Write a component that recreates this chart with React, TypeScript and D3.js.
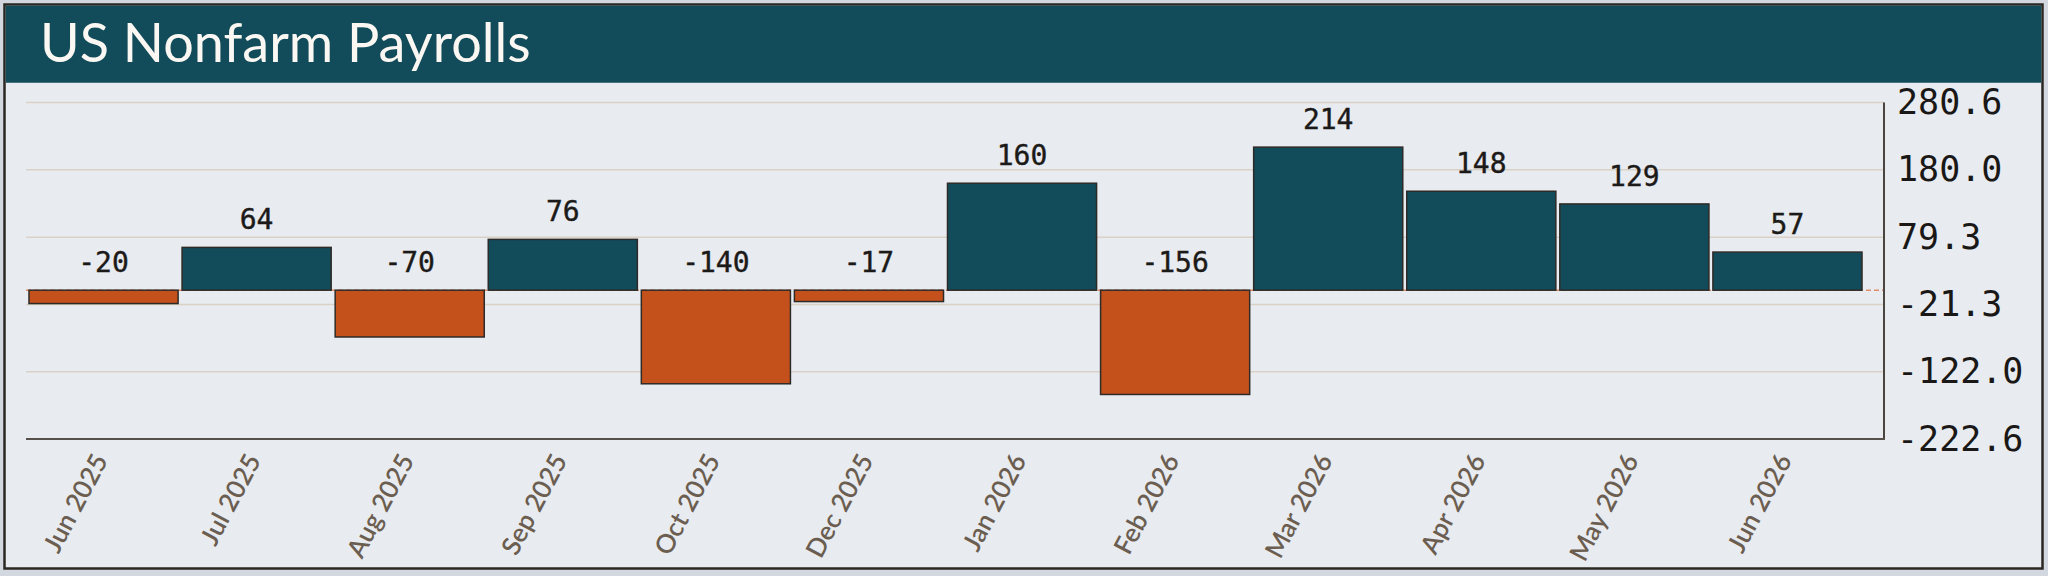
import * as d3 from "d3";
import { useEffect, useRef } from "react";

const months = [
  "Jun 2025",
  "Jul 2025",
  "Aug 2025",
  "Sep 2025",
  "Oct 2025",
  "Dec 2025",
  "Jan 2026",
  "Feb 2026",
  "Mar 2026",
  "Apr 2026",
  "May 2026",
  "Jun 2026"
];
const payrolls = [-20, 64, -70, 76, -140, -17, 160, -156, 214, 148, 129, 57];
const yTicks = [280.6, 180.0, 79.3, -21.3, -122.0, -222.6];

const TEAL = "#124b5a";
const ORANGE = "#c4511b";

export default function App() {
  const ref = useRef<SVGSVGElement | null>(null);

  useEffect(() => {
    if (!ref.current) {
      return;
    }

    const width = 2048;
    const height = 576;
    const plot = { left: 26, right: 1884, top: 102.6, bottom: 439 };

    const svg = d3.select(ref.current);
    svg.selectAll("*").remove();
    svg.attr("viewBox", `0 0 ${width} ${height}`);

    svg.append("rect").attr("width", width).attr("height", height).attr("fill", "#d3d8e0");
    svg
      .append("rect")
      .attr("x", 4.5)
      .attr("y", 4.5)
      .attr("width", 2038)
      .attr("height", 564)
      .attr("fill", "#e8ebf0")
      .attr("stroke", "#2b2723")
      .attr("stroke-width", 2.5);
    svg
      .append("rect")
      .attr("x", 5.75)
      .attr("y", 5.75)
      .attr("width", 2035.5)
      .attr("height", 77)
      .attr("fill", TEAL);
    svg
      .append("text")
      .attr("x", 40)
      .attr("y", 61.5)
      .attr("font-family", "Lato, 'Noto Sans', sans-serif")
      .attr("font-size", 54)
      .attr("fill", "#fbf8f3")
      .text("US Nonfarm Payrolls");

    const y = d3
      .scaleLinear()
      .domain([d3.min(yTicks)!, d3.max(yTicks)!])
      .range([plot.bottom, plot.top]);
    const x = d3
      .scaleBand<string>()
      .domain(months)
      .range([27, 1864])
      .paddingInner(0.026)
      .paddingOuter(0.013);

    const grid = svg.append("g");
    yTicks.forEach((tick) => {
      grid
        .append("line")
        .attr("x1", plot.left)
        .attr("x2", plot.right)
        .attr("y1", y(tick))
        .attr("y2", y(tick))
        .attr("stroke", "#d9d1c5")
        .attr("stroke-width", 1.5);
    });

    svg
      .append("line")
      .attr("x1", plot.left)
      .attr("x2", plot.right)
      .attr("y1", y(0))
      .attr("y2", y(0))
      .attr("stroke", "#e08d68")
      .attr("stroke-width", 1.5)
      .attr("stroke-dasharray", "5,3");

    svg
      .append("g")
      .selectAll("rect")
      .data(payrolls)
      .join("rect")
      .attr("x", (_, i) => x(months[i])!)
      .attr("width", x.bandwidth())
      .attr("y", (d) => y(Math.max(0, d)))
      .attr("height", (d) => Math.abs(y(d) - y(0)))
      .attr("fill", (d) => (d >= 0 ? TEAL : ORANGE))
      .attr("stroke", "#2e2a27")
      .attr("stroke-width", 1.5);

    svg
      .append("g")
      .selectAll("text")
      .data(payrolls)
      .join("text")
      .attr("x", (_, i) => x(months[i])! + x.bandwidth() / 2)
      .attr("y", (d) => y(Math.max(0, d)) - 18)
      .attr("text-anchor", "middle")
      .attr("font-family", "'DejaVu Sans Mono', monospace")
      .attr("font-size", 28)
      .attr("fill", "#1c1a18")
      .attr("stroke", "#1c1a18")
      .attr("stroke-width", 0.4)
      .text((d) => String(d));

    // axes frame
    svg
      .append("line")
      .attr("x1", plot.right)
      .attr("x2", plot.right)
      .attr("y1", plot.top)
      .attr("y2", plot.bottom)
      .attr("stroke", "#4a4540")
      .attr("stroke-width", 2);
    svg
      .append("line")
      .attr("x1", plot.left)
      .attr("x2", plot.right + 1)
      .attr("y1", plot.bottom)
      .attr("y2", plot.bottom)
      .attr("stroke", "#55504a")
      .attr("stroke-width", 2);

    svg
      .append("g")
      .selectAll("text")
      .data(yTicks)
      .join("text")
      .attr("x", 1897)
      .attr("y", (d) => y(d))
      .attr("dy", "0.33em")
      .attr("font-family", "'DejaVu Sans Mono', monospace")
      .attr("font-size", 35)
      .attr("fill", "#1a1816")
      .text((d) => d.toFixed(1));

    svg
      .append("g")
      .selectAll("text")
      .data(months)
      .join("text")
      .attr("transform", (d) => `translate(${x(d)! + x.bandwidth() / 2 - 3}, 456) rotate(-62)`)
      .attr("text-anchor", "end")
      .attr("dy", "0.35em")
      .attr("font-family", "Lato, 'Noto Sans', sans-serif")
      .attr("font-size", 26)
      .attr("font-weight", 600)
      .attr("fill", "#6b5e50")
      .text((d) => d);
  }, []);

  return (
    <>
      <style>{`body{margin:0}`}</style>
      <svg ref={ref} width={2048} height={576} style={{ display: "block" }} aria-label="US nonfarm payrolls bar chart" />
    </>
  );
}
